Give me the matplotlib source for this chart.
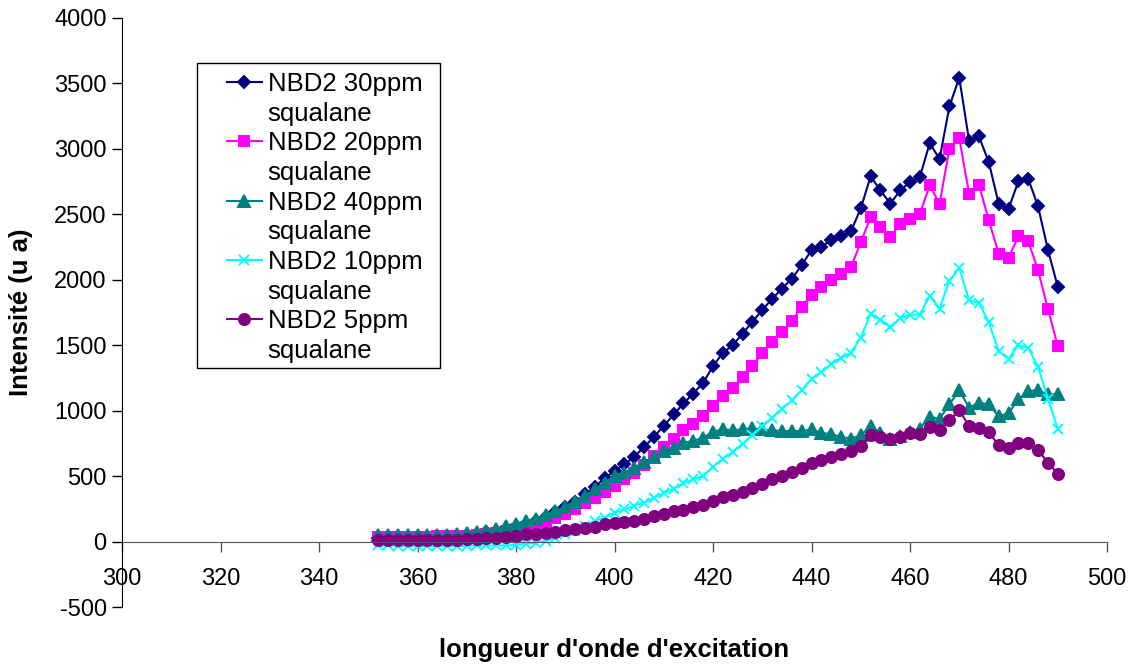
import matplotlib
matplotlib.use("Agg")
import matplotlib.pyplot as plt
from matplotlib.lines import Line2D
from matplotlib.patches import Rectangle
import numpy as np

plt.rcParams['font.family'] = ['Liberation Sans', 'DejaVu Sans']
plt.rcParams['axes.unicode_minus'] = False

# excitation wavelengths, 352 -> 490 nm every 2 nm
wavelength = np.arange(352, 491, 2)

nbd2_30ppm = [
    25, 25, 25, 25, 28, 30, 32, 35, 40, 48,
    58, 70, 82, 98, 115, 135, 160, 190, 225, 262,
    305, 360, 420, 483, 539, 590, 648, 722, 801, 882,
    971, 1055, 1131, 1213, 1340, 1442, 1500, 1589, 1679, 1770,
    1854, 1933, 2009, 2110, 2228, 2253, 2301, 2332, 2370, 2545,
    2790, 2683, 2581, 2683, 2747, 2785, 3044, 2922, 3324, 3545,
    3062, 3095, 2899, 2581, 2541, 2751, 2772, 2561, 2230, 1946,
]
nbd2_20ppm = [
    38, 38, 38, 38, 38, 38, 40, 40, 42, 45,
    50, 58, 68, 80, 93, 107, 124, 150, 183, 214,
    252, 292, 336, 381, 424, 475, 521, 582, 653, 724,
    786, 851, 900, 960, 1035, 1111, 1175, 1259, 1345, 1437,
    1523, 1599, 1683, 1793, 1887, 1943, 1996, 2047, 2095, 2286,
    2477, 2400, 2324, 2429, 2464, 2505, 2721, 2581, 3001, 3083,
    2657, 2726, 2454, 2200, 2167, 2332, 2294, 2073, 1778, 1492,
]
nbd2_40ppm = [
    50, 50, 50, 48, 48, 50, 50, 52, 55, 62,
    72, 84, 99, 119, 137, 157, 176, 201, 234, 264,
    302, 348, 399, 450, 501, 527, 565, 608, 646, 692,
    717, 755, 770, 793, 839, 857, 851, 857, 864, 857,
    851, 844, 844, 844, 857, 832, 819, 801, 786, 811,
    882, 832, 786, 806, 836, 862, 954, 938, 1048, 1157,
    1022, 1061, 1048, 958, 979, 1086, 1149, 1157, 1124, 1124,
]
nbd2_10ppm = [
    -30, -30, -32, -33, -33, -33, -33, -33, -33, -33,
    -30, -30, -30, -28, -25, -18, -8, 5, 28, 56,
    81, 119, 157, 183, 221, 246, 272, 298, 336, 369,
    404, 445, 475, 501, 572, 633, 684, 748, 811, 882,
    946, 1015, 1078, 1157, 1241, 1294, 1353, 1404, 1442, 1557,
    1742, 1696, 1636, 1705, 1734, 1734, 1879, 1780, 1994, 2091,
    1843, 1824, 1676, 1454, 1396, 1500, 1480, 1335, 1091, 862,
]
nbd2_5ppm = [
    12, 12, 12, 12, 12, 12, 12, 12, 14, 16,
    20, 25, 30, 38, 43, 56, 61, 69, 76, 86,
    99, 105, 114, 132, 145, 150, 157, 176, 195, 208,
    234, 241, 262, 279, 310, 340, 353, 381, 412, 443,
    475, 501, 531, 559, 603, 623, 646, 666, 689, 729,
    813, 801, 781, 801, 826, 819, 877, 849, 926, 1004,
    882, 870, 836, 735, 712, 755, 755, 699, 603, 519,
]

series = [nbd2_30ppm, nbd2_20ppm, nbd2_40ppm, nbd2_10ppm, nbd2_5ppm]
names = ["NBD2 30ppm", "NBD2 20ppm", "NBD2 40ppm", "NBD2 10ppm", "NBD2 5ppm"]
solvent = "squalane"
colors = ["#000080", "#FF00FF", "#008080", "#00FFFF", "#800080"]
markers = ["D", "s", "^", "x", "o"]
msizes = [6, 7, 8, 7.5, 8]

fig = plt.figure(figsize=(11.39, 6.68), dpi=100)
ax = fig.add_axes([122 / 1139, 1 - 607 / 668, (1107 - 122) / 1139, (607 - 18) / 668])

lines = []
for y, c, m, ms in zip(series, colors, markers, msizes):
    ln, = ax.plot(wavelength, y, color=c, marker=m, markersize=ms,
                  markeredgecolor=c, markerfacecolor=c, markeredgewidth=1.4,
                  linewidth=1.5)
    lines.append(ln)

ax.set_xlim(300, 500)
ax.set_ylim(-500, 4000)
ax.set_xticks(np.arange(300, 501, 20))
ax.set_yticks(np.arange(-500, 4001, 500))

ax.spines['top'].set_visible(False)
ax.spines['right'].set_visible(False)
ax.spines['bottom'].set_position(('data', 0))
ax.spines['bottom'].set_color('#555555')
ax.spines['left'].set_color('black')
ax.tick_params(axis='x', direction='out', length=7, width=1, pad=12,
               labelsize=17, color='#555555')
ax.tick_params(axis='y', direction='out', length=7, width=1, pad=4,
               labelsize=17)

ax.set_xlabel("longueur d'onde d'excitation", fontsize=18.5, fontweight='bold')
ax.set_ylabel("Intensité (u a)", fontsize=18.5, fontweight='bold')
ax.xaxis.set_label_coords(0.5, -0.052)
ax.yaxis.set_label_coords(-0.090, 0.5)

# legend: one row per text line, the second line has no handle
blank = Line2D([], [], color='none')
handles, labels = [], []
for ln, name in zip(lines, names):
    handles += [ln, blank]
    labels += [name, solvent]
leg = fig.legend(handles, labels, loc='upper left',
                 bbox_to_anchor=(227 / 1139, 1 - 72 / 668),
                 bbox_transform=fig.transFigure, frameon=False,
                 fontsize=18.5, borderpad=0, borderaxespad=0,
                 handlelength=1.35, handletextpad=0.23, labelspacing=0.22)
fig.add_artist(Rectangle((197 / 1139, 1 - 368 / 668), (440 - 197) / 1139,
                         (368 - 63) / 668, transform=fig.transFigure,
                         fill=False, edgecolor='black', linewidth=1))

fig.savefig("out.png", dpi=100)
